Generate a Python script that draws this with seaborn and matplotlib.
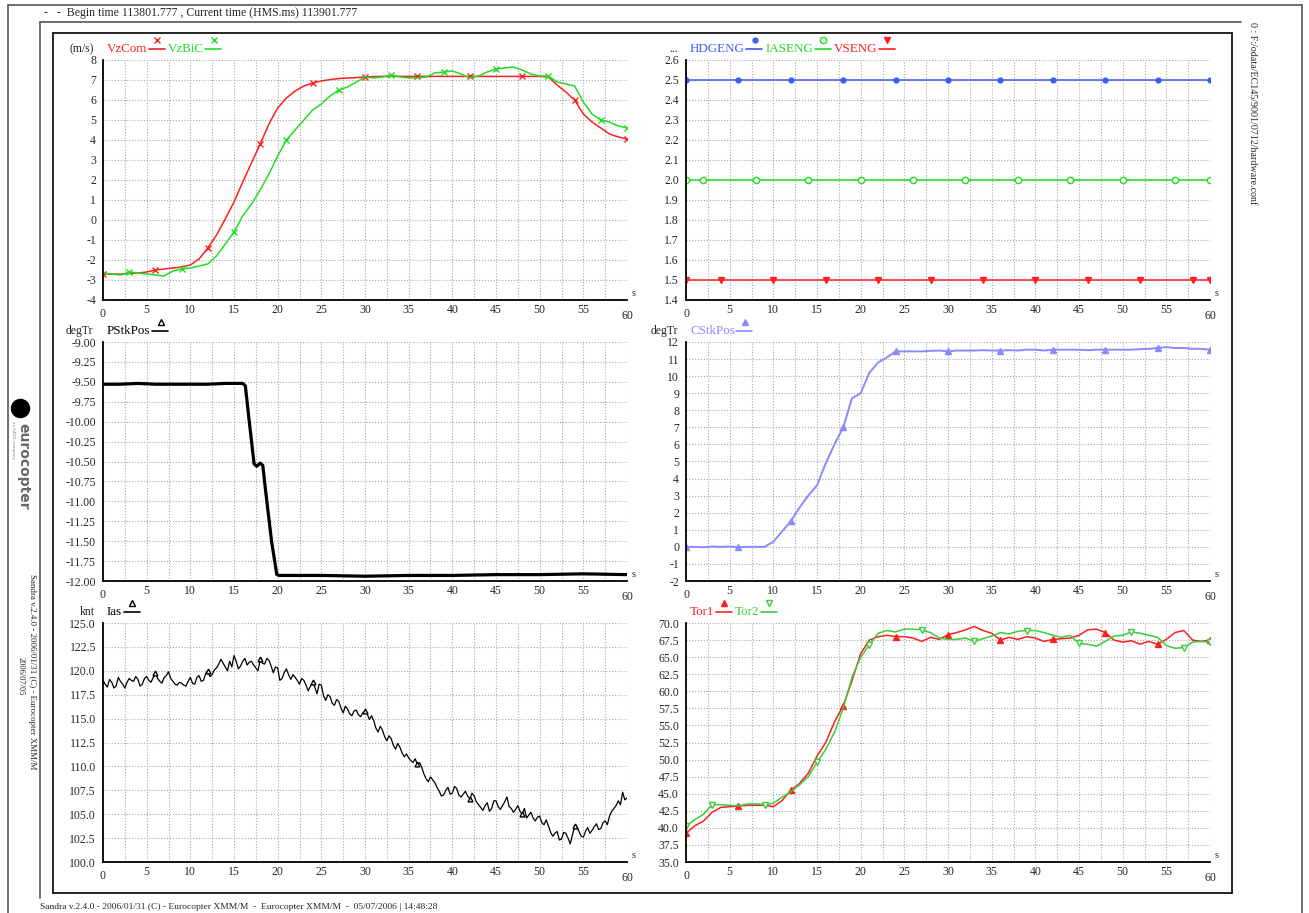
import numpy as np
import pandas as pd
import matplotlib
matplotlib.use("Agg")
import matplotlib.pyplot as plt
import seaborn as sns
from matplotlib.lines import Line2D

W, H = 1309, 913

# ---------------- data ----------------
t1 = list(range(61))

vzcom = [-2.7, -2.7, -2.7, -2.68, -2.65, -2.6, -2.5, -2.45, -2.4, -2.35,
         -2.25, -1.95, -1.4, -0.75, 0.05, 0.9, 1.9, 2.85, 3.8, 4.8,
         5.6, 6.1, 6.45, 6.7, 6.85, 6.95, 7.02, 7.07, 7.1, 7.12,
         7.15, 7.17, 7.18, 7.18, 7.18, 7.18, 7.18, 7.18, 7.18, 7.18,
         7.18, 7.18, 7.18, 7.18, 7.18, 7.18, 7.18, 7.18, 7.18, 7.18,
         7.18, 7.15, 6.75, 6.4, 6.0, 5.3, 4.9, 4.6, 4.3, 4.15, 4.05]
vzbic = [-2.65, -2.7, -2.75, -2.6, -2.65, -2.7, -2.75, -2.8, -2.55, -2.45,
         -2.4, -2.3, -2.2, -1.8, -1.2, -0.6, 0.2, 0.8, 1.5, 2.3,
         3.2, 4.0, 4.5, 5.0, 5.5, 5.8, 6.2, 6.5, 6.65, 6.9,
         7.15, 7.1, 7.15, 7.25, 7.15, 7.1, 7.1, 7.15, 7.35, 7.4,
         7.45, 7.3, 7.1, 7.2, 7.4, 7.55, 7.6, 7.65, 7.5, 7.3,
         7.2, 7.2, 6.9, 6.8, 6.7, 5.9, 5.3, 5.0, 4.9, 4.7, 4.6]

hdgeng = [2.5] * 61
iaseng = [2.0] * 61
vseng = [1.5] * 61

t_pstk = [0, 2, 4, 6, 8, 10, 12, 14, 16, 16.3, 16.8, 17.3, 17.6, 18.0, 18.3,
          18.6, 19.3, 19.9, 20.2, 25, 30, 35, 40, 45, 50, 55, 60]
pstkpos = [-9.53, -9.53, -9.52, -9.53, -9.53, -9.53, -9.53, -9.52, -9.52, -9.55,
           -10.05, -10.53, -10.56, -10.52, -10.55, -10.85, -11.5, -11.92, -11.93,
           -11.93, -11.94, -11.93, -11.93, -11.92, -11.92, -11.91, -11.92]

cstkpos = [0.0, 0.0, -0.02, 0.02, 0.0, 0.02, -0.02, 0.0, 0.0, 0.0,
           0.3, 0.9, 1.5, 2.3, 3.0, 3.6, 4.9, 6.0, 7.0, 8.7,
           9.0, 10.2, 10.8, 11.1, 11.45, 11.45, 11.45, 11.45, 11.48, 11.5,
           11.45, 11.5, 11.5, 11.5, 11.52, 11.5, 11.5, 11.52, 11.5, 11.55,
           11.55, 11.5, 11.55, 11.55, 11.55, 11.55, 11.52, 11.55, 11.55, 11.55,
           11.55, 11.55, 11.58, 11.6, 11.65, 11.7, 11.65, 11.65, 11.6, 11.6, 11.55]

t_ias = [i * 0.25 for i in range(241)]
ias = [119.0, 118.6, 118.3, 119.1, 118.8, 118.2, 118.4, 119.3, 118.9, 118.6,
       118.2, 118.8, 119.2, 119.0, 118.9, 119.4, 119.1, 118.4, 118.6, 119.2,
       119.4, 119.0, 118.8, 119.3, 119.8, 119.2, 118.9, 118.7, 119.3, 119.5,
       119.9, 119.2, 118.9, 118.6, 118.5, 118.8, 118.7, 118.5, 118.4, 118.9,
       119.3, 118.7, 118.6, 119.3, 119.5, 118.9, 119.0, 119.7, 120.0, 119.4,
       119.6, 120.1, 120.3, 120.7, 121.2, 120.8, 120.4, 120.0, 121.0, 120.4,
       121.6, 121.0, 120.2, 120.5, 121.0, 121.3, 120.6, 120.9, 121.0, 120.6,
       120.3, 120.0, 121.2, 120.8, 120.7, 121.3, 121.1, 120.5, 119.8, 120.4,
       120.3, 119.0, 119.2, 119.8, 120.2, 119.6, 119.1, 119.6, 119.3, 119.0,
       118.6, 119.2, 119.0, 118.5, 117.9, 118.4, 118.8, 118.3, 117.6, 118.6,
       118.5, 117.4, 116.9, 117.5, 117.3, 116.6, 116.4, 117.0, 116.8, 116.1,
       115.6, 116.3, 116.0, 115.5, 115.3, 115.8, 115.9, 115.4, 115.2, 115.6,
       115.8, 115.5, 114.9, 115.3, 114.8, 114.0, 113.6, 114.2, 113.8, 113.1,
       112.7, 113.2, 112.9, 112.2, 111.8, 112.4, 112.0, 111.4, 111.0, 111.3,
       110.9, 110.6, 110.4, 110.8, 110.2, 110.4, 109.9, 109.2, 108.7, 108.4,
       108.9, 108.6, 108.3, 107.8, 107.4, 106.9, 107.0, 107.5, 107.8, 107.1,
       107.2, 107.9, 107.7, 107.0, 106.8, 107.1, 107.4, 106.9, 106.6, 107.2,
       106.9, 106.3, 106.0, 105.7, 105.4, 105.9, 106.2, 105.3, 105.6, 106.4,
       106.4, 105.8, 105.5, 105.9, 106.3, 106.8, 105.8, 105.6, 105.2, 105.5,
       105.9, 105.3, 105.0, 105.6, 104.6, 104.9, 105.2, 104.6, 104.3, 104.7,
       104.8, 104.1, 103.9, 104.4, 103.8, 103.1, 102.7, 103.0, 103.2, 102.3,
       102.4, 103.1, 103.0, 102.5, 101.9, 102.8, 103.8, 103.7, 103.2, 102.7,
       102.6, 103.2, 103.6, 103.0, 103.3, 103.7, 104.0, 103.4, 103.5, 104.1,
       104.3, 103.9, 104.8, 105.3, 105.6, 105.9, 106.4, 106.0, 107.3, 106.5,
       106.7]

tor1 = [39.2, 40.3, 41.0, 42.3, 43.0, 43.1, 43.2, 43.3, 43.3, 43.3,
        43.1, 44.0, 45.5, 46.5, 48.0, 50.5, 52.5, 55.5, 57.9, 61.5,
        65.5, 67.5, 68.0, 68.2, 68.0, 68.0, 67.8, 67.3, 67.9, 67.6,
        68.3, 68.6, 69.0, 69.5, 68.9, 68.5, 67.5, 67.9, 67.6, 68.0,
        67.8, 67.3, 67.6, 67.7, 67.8, 68.2, 69.0, 69.1, 68.6, 67.5,
        67.2, 67.4, 66.9, 67.3, 66.9, 67.6, 68.6, 68.9, 67.5, 67.3, 67.5]
tor2 = [40.2, 41.2, 42.0, 43.4, 43.4, 43.3, 43.2, 43.5, 43.5, 43.4,
        43.6, 44.5, 45.3, 46.3, 47.5, 49.6, 51.5, 54.0, 57.5, 62.0,
        65.0, 66.8, 68.5, 68.9, 68.7, 69.1, 69.1, 69.0, 68.6, 67.8,
        67.6, 67.6, 67.8, 67.3, 67.7, 68.1, 68.6, 68.4, 68.8, 68.9,
        68.9, 68.6, 68.2, 67.9, 68.2, 67.0, 66.9, 66.6, 67.3, 68.1,
        68.2, 68.7, 68.5, 68.2, 67.9, 66.7, 66.3, 66.4, 67.2, 67.3, 67.2]

RED = "#ff1f1f"
GREEN = "#22dd22"
BLUE = "#3c5cff"
LBLUE = "#8a8aff"
TGREEN = "#3ccc3c"

# ---------------- figure ----------------
sns.set_style("white")
plt.rcParams['font.family'] = ['Liberation Serif', 'DejaVu Serif']

fig = plt.figure(figsize=(W / 100, H / 100), dpi=100)
renderer = fig.canvas.get_renderer()


def fx(x):
    return x / W


def fy(y):
    return 1 - y / H


def hline(x0, x1, y, **kw):
    fig.add_artist(Line2D([fx(x0), fx(x1)], [fy(y), fy(y)], transform=fig.transFigure, **kw))


def vline(x, y0, y1, **kw):
    fig.add_artist(Line2D([fx(x), fx(x)], [fy(y0), fy(y1)], transform=fig.transFigure, **kw))


# frames
fc = dict(color="#555555", lw=1.2)
hline(8, 1302, 5, **fc)
vline(8, 5, 913, **fc)
vline(1302, 5, 913, **fc)
hline(40, 1241, 22, **fc)
vline(40, 22, 898, **fc)
blk = dict(color="black", lw=1.2)
hline(53, 1232, 33, **blk)
hline(53, 1232, 893, **blk)
vline(53, 33, 893, **blk)
vline(1232, 33, 893, **blk)

fig.text(fx(44), fy(13), "-   -  Begin time 113801.777 , Current time (HMS.ms) 113901.777",
         fontsize=8.5, va="center", ha="left")
fig.text(fx(40), fy(907), "Sandra v.2.4.0 - 2006/01/31 (C) - Eurocopter XMM/M  -  Eurocopter XMM/M  -  05/07/2006 | 14:48:28",
         fontsize=6.8, va="center", ha="left")
fig.text(fx(1253), fy(22), "0 : F:/odata/EC145/9001/0712/hardware.conf",
         fontsize=7.2, rotation=-90, va="top", ha="center")
fig.text(fx(32), fy(672), "Sandra v.2.4.0 - 2006/01/31 (C) - Eurocopter XMM/M",
         fontsize=6.4, rotation=-90, va="center", ha="center")
fig.text(fx(21), fy(676), "2006/07/05", fontsize=6.0, rotation=-90, va="center", ha="center")
# logo
fig.add_artist(Line2D([fx(20)], [fy(408)], transform=fig.transFigure, marker="o", ms=13,
                      color="black", linestyle="none"))
fig.text(fx(23), fy(466), "eurocopter", family="DejaVu Sans", fontsize=10, fontweight="bold",
         color="#666666", rotation=-90, va="center", ha="center")
fig.text(fx(13), fy(440), "an EADS company", family="DejaVu Sans", fontsize=3,
         color="#888888", rotation=-90, va="center", ha="center")


def panel(l, t, r, b, ylim, yticks, fmt):
    ax = fig.add_axes([fx(l), fy(b), (r - l) / W, (b - t) / H])
    ax.set_xlim(0, 60)
    ax.set_ylim(*ylim)
    ax.set_xticks(range(0, 61, 5))
    ax.set_xticks(np.arange(2.5, 60, 5), minor=True)
    ax.set_yticks(yticks)
    ax.set_yticklabels([fmt.format(v) for v in yticks])
    for s in ["top", "right"]:
        ax.spines[s].set_visible(False)
    for s in ["left", "bottom"]:
        ax.spines[s].set_color("black")
        ax.spines[s].set_linewidth(1.3)
    gkw = dict(color="#a8a8a8", linestyle=(0, (1, 1.6)), linewidth=0.8)
    ax.grid(True, which="both", axis="x", **gkw)
    ax.grid(True, which="major", axis="y", **gkw)
    ax.set_axisbelow(True)
    ax.tick_params(which="major", direction="inout", length=6, width=1, labelsize=8.5, pad=2, color="black")
    ax.tick_params(axis="x", which="major", pad=0)
    ax.tick_params(which="minor", length=0)
    xt = ax.xaxis.get_major_ticks()
    xt[0].set_pad(3)
    xt[-1].set_pad(4)
    ax.text(1.008, 0.01, "s", transform=ax.transAxes, fontsize=7.5, va="bottom", ha="left")
    return ax


def header(x0, yb, unit, unit_right, items):
    if unit:
        fig.text(fx(unit_right), fy(yb), unit, fontsize=8.5, ha="right", va="baseline")
    x = x0
    for name, color, marker, filled in items:
        tx = fig.text(fx(x), fy(yb), name, color=color, fontsize=9.4, ha="left", va="baseline")
        x += tx.get_window_extent(renderer).width + 1.5
        hline(x, x + 16, yb - 3, color=color, lw=1.2)
        fig.add_artist(Line2D([fx(x + 8.5)], [fy(yb - 12)], transform=fig.transFigure,
                              marker=marker, ms=3.5 if marker == "o" and filled else 4.5,
                              color=color, mec=color,
                              mfc=color if filled else "white", mew=1.0, linestyle="none"))
        x += 16 + 3


def draw(ax, x, y, color, marker=None, every=None, filled=True, lw=1.1, ms=5):
    kw = {}
    if marker is not None:
        kw = dict(marker=marker, markevery=every, ms=ms, mec=color,
                  mfc=color if filled else "white", mew=1.0)
    sns.lineplot(x=x, y=y, ax=ax, color=color, lw=lw, estimator=None, sort=False, **kw)
    ax.set_xlabel("")
    ax.set_ylabel("")


# top left
ax = panel(103, 60, 627, 300, (-4, 8), list(range(-4, 9)), "{:.0f}")
draw(ax, t1, vzcom, RED, "x", list(range(0, 61, 6)))
draw(ax, t1, vzbic, GREEN, "x", list(range(3, 60, 6)) + [60])
header(107, 52, "(m/s)", 94, [("VzCom", RED, "x", True), ("VzBiC", GREEN, "x", True)])

# top right
ax = panel(686, 60, 1210, 300, (1.4, 2.6), list(np.round(np.arange(1.4, 2.61, 0.1), 1)), "{:.1f}")
draw(ax, t1, hdgeng, BLUE, "o", list(range(0, 61, 6)), ms=3.5)
draw(ax, t1, iaseng, GREEN, "o", [0] + list(range(2, 60, 6)) + [60], filled=False, ms=4.5)
draw(ax, t1, vseng, RED, "v", [0] + list(range(4, 60, 6)) + [60], ms=5)
header(690, 52, "...", 678, [("HDGENG", BLUE, "o", True), ("IASENG", GREEN, "o", False),
                             ("VSENG", RED, "v", True)])

# middle left
ax = panel(103, 342, 627, 581, (-12, -9), list(np.arange(-12, -8.99, 0.25)), "{:.2f}")
draw(ax, t_pstk, pstkpos, "black", lw=2.3)
header(107, 334, "degTr", 93, [("PStkPos", "black", "^", False)])

# middle right
ax = panel(686, 342, 1210, 581, (-2, 12), list(range(-2, 13)), "{:.0f}")
draw(ax, t1, cstkpos, LBLUE, "^", list(range(0, 61, 6)), lw=1.4, ms=4.5)
header(690, 334, "degTr", 678, [("CStkPos", LBLUE, "^", True)])

# bottom left
ax = panel(103, 623, 627, 862, (100, 125), list(np.arange(100, 125.1, 2.5)), "{:.1f}")
draw(ax, t_ias, ias, "black", "^", list(range(24, 240, 24)), filled=False, lw=0.9, ms=3.5)
header(107, 615, "knt", 95, [("Ias", "black", "^", False)])

# bottom right
ax = panel(686, 623, 1210, 862, (35, 70), list(np.arange(35, 70.1, 2.5)), "{:.1f}")
draw(ax, t1, tor1, RED, "^", list(range(0, 61, 6)), ms=5)
draw(ax, t1, tor2, TGREEN, "v", [0] + list(range(3, 60, 6)) + [60], filled=False, ms=5)
header(690, 615, None, 0, [("Tor1", RED, "^", True), ("Tor2", TGREEN, "v", False)])

fig.savefig("out.png", dpi=100)
